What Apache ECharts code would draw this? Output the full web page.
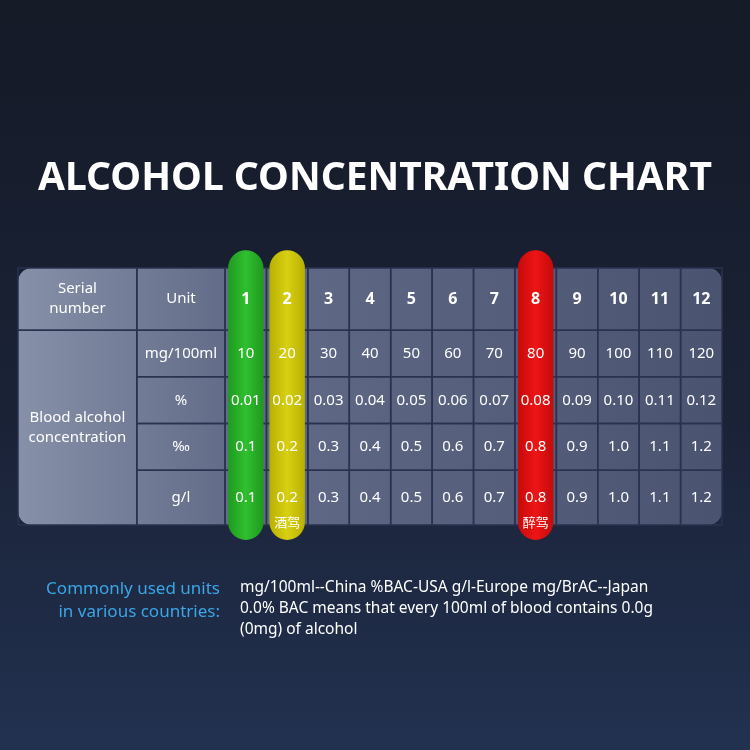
<!DOCTYPE html>
<html><head><meta charset="utf-8">
<script src="https://cdn.jsdelivr.net/npm/echarts@6/dist/echarts.min.js"></script>
<style>html,body{margin:0;padding:0;background:#161c2b}#c{width:750px;height:750px}</style>
</head><body><div id="c"></div>
<script>
const title = 'ALCOHOL CONCENTRATION CHART';
const serials = ['1','2','3','4','5','6','7','8','9','10','11','12'];
const units = ['mg/100ml','%','‰','g/l'];
const rowMg = ['10','20','30','40','50','60','70','80','90','100','110','120'];
const rowPct = ['0.01','0.02','0.03','0.04','0.05','0.06','0.07','0.08','0.09','0.10','0.11','0.12'];
const rowPermil = ['0.1','0.2','0.3','0.4','0.5','0.6','0.7','0.8','0.9','1.0','1.1','1.2'];
const rowGl = ['0.1','0.2','0.3','0.4','0.5','0.6','0.7','0.8','0.9','1.0','1.1','1.2'];
const highlights = [[0,'#2fbf2f','#1f9a1f',''],[1,'#d8d012','#b8b000','酒驾'],[7,'#ee1515','#c40a0a','醉驾']];
const footLeft = 'Commonly used units\nin various countries:';
const footRight = 'mg/100ml--China %BAC-USA g/l-Europe mg/BrAC--Japan\n0.0% BAC means that every 100ml of blood contains 0.0g\n(0mg) of alcohol';

const colEdges = [0, 2.87, 5];
for (let i = 1; i <= 12; i++) colEdges.push(5 + i);
const rowEdges = [0, 1.33, 2.33, 3.33, 4.33, 5.5];

const rows = [rowMg, rowPct, rowPermil, rowGl];
const cells = [];
cells.push([0, 1, 0, 1, 'Serial\nnumber']);
cells.push([1, 2, 0, 1, 'Unit']);
serials.forEach((s, i) => cells.push([i + 2, i + 3, 0, 1, s]));
cells.push([0, 1, 1, 5, 'Blood alcohol\nconcentration']);
units.forEach((u, r) => {
  cells.push([1, 2, r + 1, r + 2, u]);
  rows[r].forEach((v, i) => cells.push([i + 2, i + 3, r + 1, r + 2, v]));
});

function rectOf(api, c0, c1, r0, r1) {
  const p0 = api.coord([colEdges[c0], rowEdges[r0]]);
  const p1 = api.coord([colEdges[c1], rowEdges[r1]]);
  return {x: p0[0], y: p0[1], width: p1[0] - p0[0], height: p1[1] - p0[1]};
}

const chart = echarts.init(document.getElementById('c'));
chart.setOption({
  backgroundColor: {type: 'linear', x: 0, y: 0, x2: 0, y2: 1, colorStops: [
    {offset: 0, color: '#151a27'}, {offset: 0.55, color: '#1a2236'}, {offset: 1, color: '#223150'}]},
  title: {text: title, left: 'center', top: 154, textStyle: {color: '#fff', fontSize: 39, fontWeight: 'bold', fontFamily: 'Noto Sans'}},
  grid: {left: 18, right: 28, top: 268, bottom: 225},
  xAxis: {type: 'value', min: 0, max: 17, show: false},
  yAxis: {type: 'value', min: 0, max: 5.5, inverse: true, show: false},
  graphic: [
    {type: 'rect', z: -1, shape: {x: 18, y: 268, width: 704, height: 257, r: 14},
     style: {fill: {type: 'linear', x: 0, y: 0, x2: 1, y2: 0, colorStops: [
       {offset: 0, color: '#8690a8'}, {offset: 0.3, color: '#626c88'}, {offset: 1, color: '#4a5370'}]}}},
    {type: 'text', x: 220, y: 578, style: {text: footLeft, fill: '#3aa6e6', font: '17px "Noto Sans"', align: 'right', lineHeight: 23}},
    {type: 'text', x: 240, y: 577, style: {text: footRight, fill: '#ffffff', font: '15.5px "Noto Sans"', lineHeight: 21}}
  ],
  series: [
    {type: 'custom', z: 1, clip: false, data: cells.map(c => c.slice(0, 4)),
     renderItem: (params, api) => {
       const c = cells[params.dataIndex];
       return {type: 'rect', shape: rectOf(api, c[0], c[1], c[2], c[3]),
         style: {fill: 'rgba(0,0,0,0)', stroke: '#2a3250', lineWidth: 1.5}};
     }},
    {type: 'custom', z: 2, clip: false, data: highlights.map(h => [h[0]]),
     renderItem: (params, api) => {
       const h = highlights[params.dataIndex];
       const p0 = api.coord([colEdges[h[0] + 2], -0.38]);
       const p1 = api.coord([colEdges[h[0] + 3], 5.82]);
       return {type: 'group', children: [
         {type: 'rect', shape: {x: p0[0] + 3, y: p0[1], width: p1[0] - p0[0] - 6, height: p1[1] - p0[1], r: 19},
          style: {fill: {type: 'linear', x: 0, y: 0, x2: 1, y2: 0, colorStops: [{offset: 0, color: h[2]}, {offset: 0.5, color: h[1]}, {offset: 1, color: h[2]}]}}},
         {type: 'text', style: {text: h[3], x: (p0[0] + p1[0]) / 2, y: api.coord([0, 5.43])[1], fill: '#fff', font: '13px "Noto Sans CJK SC"', align: 'center', verticalAlign: 'middle'}}
       ]};
     }},
    {type: 'custom', z: 3, clip: false, data: cells.map(c => c.slice(0, 4)),
     renderItem: (params, api) => {
       const c = cells[params.dataIndex];
       const r = rectOf(api, c[0], c[1], c[2], c[3]);
       const header = c[2] === 0 && c[0] >= 2;
       return {type: 'text', style: {text: c[4], x: r.x + r.width / 2, y: r.y + r.height / 2,
         fill: '#fff', align: 'center', verticalAlign: 'middle', lineHeight: 20,
         font: (header ? 'bold 16px' : '15px') + ' "Noto Sans"'}};
     }}
  ]
});
</script></body></html>
